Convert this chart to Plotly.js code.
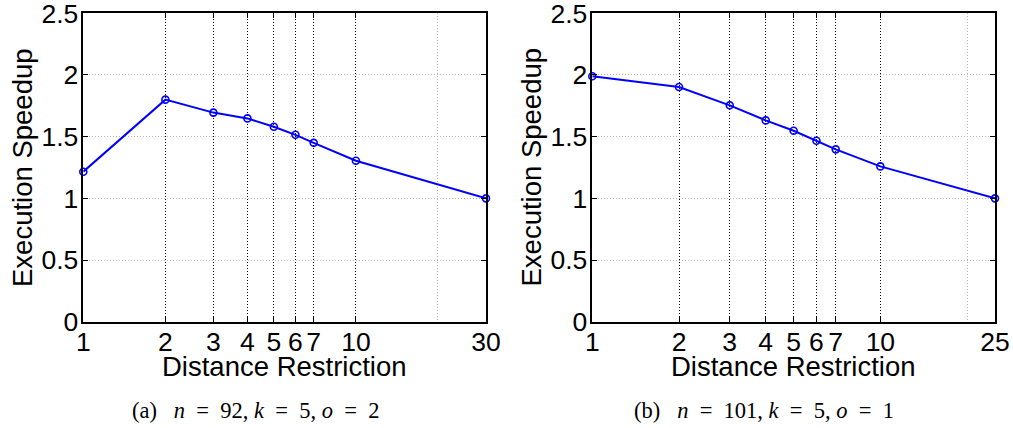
<!DOCTYPE html>
<html>
<head>
<meta charset="utf-8">
<script src="https://cdn.plot.ly/plotly-3.0.1.min.js"></script>
<style>html,body{margin:0;padding:0;background:#fff;}#chart{width:1013px;height:428px;}</style>
</head>
<body>
<div id="chart"></div>
<script>
// Data
const distA = [1, 2, 3, 4, 5, 6, 7, 10, 30];
const speedupA = [1.216, 1.80, 1.695, 1.648, 1.58, 1.515, 1.45, 1.305, 1.0];
const distB = [1, 2, 3, 4, 5, 6, 7, 10, 25];
const speedupB = [1.99, 1.902, 1.754, 1.632, 1.548, 1.467, 1.397, 1.259, 1.0];
const tickA = [1, 2, 3, 4, 5, 6, 7, 10, 30];
const tickB = [1, 2, 3, 4, 5, 6, 7, 10, 25];
const yTicks = [0, 0.5, 1, 1.5, 2, 2.5];
const yTickText = ['0', '0.5', '1', '1.5', '2', '2.5'];
const xTitle = 'Distance Restriction';
const yTitle = 'Execution Speedup';
const E = '\u2002', N = '\u00a0';
const captionA = '(a)' + E + N + '<i>n</i>' + E + '=' + E + '92,' + N + '<i>k</i>' + E + '=' + E + '5,' + N + '<i>o</i>' + E + '=' + E + '2';
const captionB = '(b)' + E + N + '<i>n</i>' + E + '=' + E + '101,' + N + '<i>k</i>' + E + '=' + E + '5,' + N + '<i>o</i>' + E + '=' + E + '1';

const W = 1013, H = 428;
const sans = 'Liberation Sans, Arial, Helvetica, sans-serif';
const serif = 'Liberation Serif, DejaVu Serif, Times New Roman, serif';

function trace(x, y, xa, ya) {
  return {
    x: x, y: y, xaxis: xa, yaxis: ya, type: 'scatter', mode: 'lines+markers',
    line: {color: '#0000ff', width: 2},
    marker: {symbol: 'circle-open', size: 7, color: '#0000ff', line: {width: 1.6, color: '#0000ff'}},
    hoverinfo: 'x+y', showlegend: false, cliponaxis: false
  };
}

function xaxisDef(domain, ticks, maxv, anchor) {
  return {
    type: 'log', domain: domain, anchor: anchor,
    range: [0, Math.log10(maxv)],
    tickmode: 'array', tickvals: ticks, ticktext: ticks.map(String),
    ticks: 'inside', ticklen: 5, tickcolor: '#000', tickwidth: 1,
    showline: true, linecolor: '#000', linewidth: 1.5, mirror: 'ticks',
    showgrid: true, gridcolor: '#000', gridwidth: 1, griddash: '1px,2px',
    minor: {tickmode: 'array', tickvals: [20], showgrid: true, gridcolor: '#b4b4b4', gridwidth: 1, griddash: '1px,2px', ticks: ''},
    tickfont: {family: sans, size: 26.5, color: '#000'},
    ticklabelstandoff: -4, ticklabeloverflow: 'allow',
    zeroline: false, automargin: false, fixedrange: true
  };
}
function yaxisDef(domain, anchor) {
  return {
    domain: domain, anchor: anchor, range: [0, 2.5],
    tickmode: 'array', tickvals: yTicks, ticktext: yTickText,
    ticks: 'inside', ticklen: 5, tickcolor: '#000', tickwidth: 1,
    showline: true, linecolor: '#000', linewidth: 1.5, mirror: 'ticks',
    showgrid: true, gridcolor: '#b4b4b4', gridwidth: 1, griddash: '1px,2px',
    tickfont: {family: sans, size: 26.5, color: '#000'},
    ticklabelstandoff: -2, ticklabeloverflow: 'allow',
    zeroline: false, automargin: false, fixedrange: true
  };
}

const yDom = [1 - 321.7 / H, 1 - 13.3 / H];
const xDomA = [83.3 / W, 486 / W];
const xDomB = [592.3 / W, 995 / W];

const layout = {
  width: W, height: H,
  margin: {l: 0, r: 0, t: 0, b: 0, pad: 0},
  paper_bgcolor: '#fff', plot_bgcolor: '#fff',
  xaxis: xaxisDef(xDomA, tickA, 30, 'y'),
  yaxis: yaxisDef(yDom, 'x'),
  xaxis2: xaxisDef(xDomB, tickB, 25, 'y2'),
  yaxis2: yaxisDef(yDom, 'x2'),
  annotations: [
    {text: xTitle, xref: 'paper', yref: 'paper', x: 284.5 / W, y: 1 - 366 / H, xanchor: 'center', yanchor: 'middle', showarrow: false, font: {family: sans, size: 27.5, color: '#000'}},
    {text: xTitle, xref: 'paper', yref: 'paper', x: 793.5 / W, y: 1 - 366 / H, xanchor: 'center', yanchor: 'middle', showarrow: false, font: {family: sans, size: 27.5, color: '#000'}},
    {text: yTitle, xref: 'paper', yref: 'paper', x: 22.5 / W, y: 1 - 167.5 / H, xanchor: 'center', yanchor: 'middle', textangle: -90, showarrow: false, font: {family: sans, size: 27.5, color: '#000'}},
    {text: yTitle, xref: 'paper', yref: 'paper', x: 531 / W, y: 1 - 167.5 / H, xanchor: 'center', yanchor: 'middle', textangle: -90, showarrow: false, font: {family: sans, size: 27.5, color: '#000'}},
    {text: captionA, xref: 'paper', yref: 'paper', x: 255 / W, y: 1 - 410.5 / H, xanchor: 'center', yanchor: 'middle', showarrow: false, font: {family: serif, size: 22.5, color: '#000'}},
    {text: captionB, xref: 'paper', yref: 'paper', x: 764 / W, y: 1 - 410.5 / H, xanchor: 'center', yanchor: 'middle', showarrow: false, font: {family: serif, size: 22.5, color: '#000'}}
  ]
};

Plotly.newPlot('chart', [trace(distA, speedupA, 'x', 'y'), trace(distB, speedupB, 'x2', 'y2')], layout, {displayModeBar: false, staticPlot: false});
</script>
</body>
</html>
